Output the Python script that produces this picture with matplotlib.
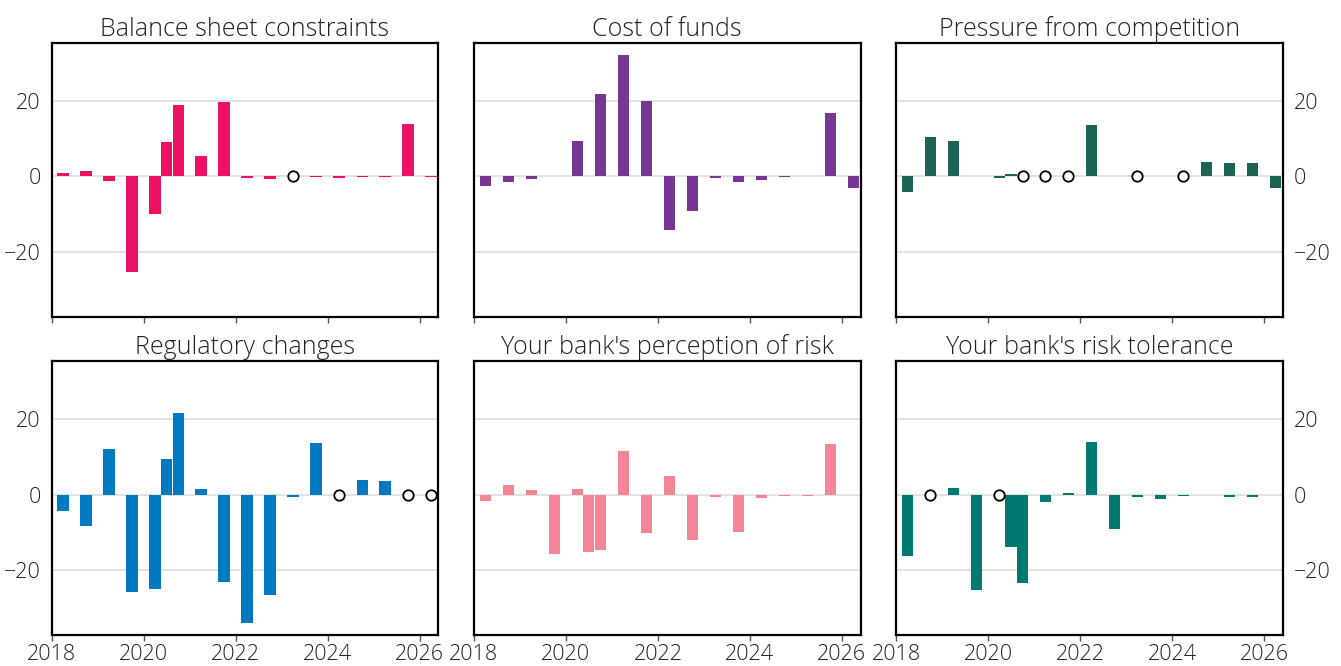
import numpy as np
import pandas as pd
import matplotlib
matplotlib.use("Agg")
import matplotlib.pyplot as plt

# survey dates (half-yearly, plus the extra mid-2020 round)
dates = pd.to_datetime([
    "2018-04-01", "2018-10-01", "2019-04-01", "2019-10-01", "2020-04-01",
    "2020-07-01", "2020-10-01", "2021-04-01", "2021-10-01", "2022-04-01",
    "2022-10-01", "2023-04-01", "2023-10-01", "2024-04-01", "2024-10-01",
    "2025-04-01", "2025-10-01", "2026-04-01",
])

titles = [
    "Balance sheet constraints", "Cost of funds", "Pressure from competition",
    "Regulatory changes", "Your bank's perception of risk", "Your bank's risk tolerance",
]
colors = ["#ED1164", "#753694", "#1C6356", "#0079C1", "#F48595", "#007A70"]

# net percentages, 0 = no change (drawn as an open circle)
balance_sheet = [0.9, 1.4, -1.2, -25.3, -10.0, 9.1, 18.9, 5.4, 19.7, -0.4,
                 -0.7, 0.0, -0.2, -0.4, -0.2, -0.2, 13.9, -0.2]
cost_of_funds = [-2.5, -1.4, -0.6, 0.2, 9.4, 0.2, 21.9, 32.2, 20.0, -14.2,
                 -9.1, -0.4, -1.4, -0.9, -0.2, 0.2, 16.8, -3.0]
competition = [-4.3, 10.4, 9.4, 0.2, -0.4, 0.6, 0.0, 0.0, 0.0, 13.6,
               0.2, 0.0, 0.2, 0.0, 3.8, 3.5, 3.5, -3.0]
regulatory = [-4.3, -8.3, 12.0, -25.8, -25.0, 9.4, 21.6, 1.4, -23.2, -34.0,
              -26.6, -0.6, 13.6, 0.0, 3.8, 3.5, 0.0, 0.0]
perception = [-1.7, 2.5, 1.2, -15.8, 1.4, -15.2, -14.7, 11.5, -10.2, 4.9,
              -12.0, -0.6, -9.9, -0.9, -0.4, -0.4, 13.4, -0.2]
tolerance = [-16.3, 0.0, 1.7, -25.3, 0.0, -13.9, -23.5, -1.9, 0.4, 13.9,
             -9.1, -0.6, -1.2, -0.4, -0.2, -0.6, -0.6, -0.2]

series = [balance_sheet, cost_of_funds, competition, regulatory, perception, tolerance]

plt.rcParams["font.family"] = ["Open Sans", "DejaVu Sans"]
plt.rcParams["font.weight"] = "light"

fig, axes = plt.subplots(2, 3, figsize=(13.41, 6.66), dpi=100, sharex=True, sharey=True)
fig.subplots_adjust(left=0.0386, right=0.9565, bottom=0.0461, top=0.9359,
                    wspace=0.092, hspace=0.16)

for i, ax in enumerate(axes.flat):
    vals = np.array(series[i])
    ax.bar(dates, vals, width=90, color=colors[i], zorder=2)
    zero = vals == 0
    ax.plot(dates[zero], vals[zero], "o", ms=7.5, mfc="white", mec="black", mew=1.3,
            zorder=3, clip_on=False)
    ax.set_title(titles[i], fontsize=18, color="#222222", pad=5, fontweight="light")
    ax.yaxis.grid(True, color="#DDDDDD", linewidth=1.2, zorder=0)
    ax.set_axisbelow(True)
    for s in ax.spines.values():
        s.set_linewidth(1.6)
        s.set_color("black")
    ax.tick_params(axis="x", length=4, width=1, color="#555555", labelsize=15.5,
                   labelcolor="#222222", pad=2)
    ax.tick_params(axis="y", length=0, labelsize=15.5, labelcolor="#222222", pad=8)
    col = i % 3
    if col == 0:
        ax.tick_params(axis="y", labelleft=True, labelright=False)
    elif col == 1:
        ax.tick_params(axis="y", labelleft=False, labelright=False)
    else:
        ax.tick_params(axis="y", labelleft=False, labelright=True)

ax0 = axes[0, 0]
ax0.set_yticks([-20, 0, 20])
ax0.set_ylim(-37.4, 35.5)
ax0.set_xlim(pd.Timestamp("2018-01-01"), pd.Timestamp("2026-05-29"))
ax0.set_xticks(pd.to_datetime(["2018-01-01", "2020-01-01", "2022-01-01",
                               "2024-01-01", "2026-01-01"]))
for ax in axes[1]:
    ax.set_xticklabels(["2018", "2020", "2022", "2024", "2026"])

fig.savefig("out.png", dpi=100)
